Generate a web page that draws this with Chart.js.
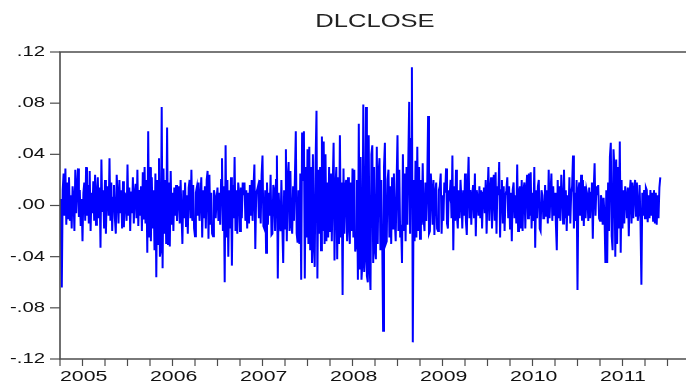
<!DOCTYPE html>
<html>
<head>
<meta charset="utf-8">
<title>DLCLOSE</title>
<script src="https://cdn.jsdelivr.net/npm/chart.js@4/dist/chart.umd.min.js"></script>
<style>
  html, body { margin: 0; padding: 0; background: #fff; overflow: hidden; }
  canvas { display: block; }
</style>
</head>
<body>
<canvas id="c" width="700" height="383"></canvas>
<script>
// Daily log-differences of the closing price, in thousandths, one row per year.
// Observations are spaced evenly through each year.
const r2005 = [
  5, -22, -64, 12, 25, -8, 29, -15, 18, -10,
  22, -12, 8, -18, 15, 6, -20, 28, -6, 14,
  29, -9, 12, -16, 5, -28, 10, 18, -12, 30,
  -8, 16, -14, 27, -20, 10, -6, 19, -12, 24,
  -15, 8, 22, -10, 14, -33, 36, -5, 12, -18,
  20, -22, 9, 15, -8, 37, -12, 18, -20, 6,
  16, -10, -22, 24, 8, -14, 20, -6, 12, -18,
  19, -17, 10, 5, -12, 32, -8, 14, -20, 11,
  -6, 22, -14, 9, 17, -10, 28, -16, 12, -8,
  15, -20, 26, -11, 30, -14, 20, -37, 58, -25
];
const r2006 = [
  30, -28, 22, -18, 12, -35, 25, -56, 20, -30,
  37, -40, -35, 77, -49, 29, -22, 20, -30, 61,
  -30, 18, -32, 27, -15, 10, -20, 14, -8, 16,
  -12, 9, 15, -14, 20, -6, -30, 12, -10, 18,
  -16, 8, -22, 14, 20, -10, 28, -12, 16, -18,
  -24, 10, 14, -8, 18, -12, 6, 22, -25, 12,
  -10, 15, -18, 20, 27, -26, 24, -15, 10, -22,
  -24, 12, 8, -10, 5, 14, -12, 10, -15, 20,
  37, -20, 15, -60, 47, -25, 20, -40, 12, -18,
  22, -47, 16, -10, 38, -20, 12, -22, 18, 10
];
const r2007 = [
  -20, 14, -10, 18, 8, 18, -12, 12, -18, 10,
  -14, 16, -8, 20, -12, 14, 32, -34, 10, 12,
  15, -10, 20, -14, 24, 39, -16, -18, 12, -37,
  18, -15, 10, -8, 24, -23, -22, 16, 12, -20,
  20, 39, -57, 10, -8, -20, 20, -15, -45, 12,
  -18, 44, -28, 20, 34, -20, 27, -15, -22, 15,
  -12, 22, 58, -22, -29, 12, -30, 25, -58, 57,
  20, 58, -57, 30, -25, 44, -30, 46, -35, 30,
  -45, 40, -30, -48, 35, 74, -57, 28, -22, 30,
  -35, 54, -20, 50, -30, 40, -28, 18, -25, 30
];
const r2008 = [
  -20, 25, -28, 15, 49, -43, 12, 30, -42, 22,
  -30, 55, -25, 18, -70, 29, -22, 15, 20, -28,
  22, -15, -30, 18, -20, 29, -25, 28, -36, -30,
  20, -58, 64, -50, 38, -58, -45, 79, -52, -40,
  77, -55, -60, 55, -48, -66, 40, 47, -45, 30,
  -35, -42, 46, -30, 25, 37, -35, 20, -25, -98,
  30, 49, -30, -28, 20, 28, -25, 15, -30, 22,
  -18, 25, -12, -28, 18, 55, -20, 28, -25, -15,
  -45, 40, -20, 25, -28, 30, -15, 35, 81, -22,
  52, 108, -107, 20, -28, 35, -25, 46, -20, 30
];
const r2009 = [
  -26, 20, -15, 33, -10, -20, 18, -12, 15, 70,
  -22, -20, 25, 12, -15, 20, -23, 10, 18, -18,
  -20, 12, 15, 25, -22, 8, -12, 18, 10, 29,
  -14, -18, 12, 8, 20, -10, 39, -35, 15, -12,
  28, -8, -18, 12, -10, 20, 5, -18, 12, -8,
  25, -12, -23, 14, 38, -10, 12, -15, 8, 16,
  -10, 25, -24, 12, 6, -8, 15, -10, 12, -18,
  10, 14, -6, 20, -22, 8, 30, -12, 12, 22,
  -18, 10, 24, -12, 26, -22, 15, 8, 34, -25,
  12, 20, -14, 15, -20, 8, 12, 22, -10, 15
];
const r2010 = [
  -18, 10, -28, 12, 18, -10, 8, -14, 32, -20,
  10, 15, -18, 20, -20, 12, 18, -18, 12, 24,
  -10, 25, -8, 26, -18, 10, -12, 30, -33, 12,
  -10, 15, 20, -18, -20, 12, 8, -10, -10, 16,
  -8, 12, -14, 28, -10, 10, 25, -12, 15, -8,
  10, -15, -35, 20, -10, 15, -12, 24, 10, -14,
  28, -10, 12, -20, 8, -8, 22, -14, 10, 15,
  39, -18, 10, -12, 20, -66, 12, 18, -8, 24,
  -12, 20, -16, 15, -10, 12, 8, -12, 14, -10,
  10, 18, -26, 12, 33, -8, 15, 8, 16, -10
];
const r2011 = [
  -12, 8, 4, -15, 6, -8, -45, 12, -45, 18,
  -20, 38, 49, -24, -35, 44, 30, -40, 36, -30,
  30, -18, 50, -37, 20, -18, 12, -14, 15, 8,
  -10, 14, -24, 10, 20, -14, 18, -10, 12, 20,
  -8, 18, -12, -4, 16, -14, -62, 10, -8, 12,
  -10, 14, 12, -13, 8, -10, 12, -8, 10, -12,
  12, -14, 10, -15, 8, -10, 14, 22
];

const years = [2005, 2006, 2007, 2008, 2009, 2010, 2011];
const yearlySeries = [r2005, r2006, r2007, r2008, r2009, r2010, r2011];
const yTickValues = [0.12, 0.08, 0.04, 0.00, -0.04, -0.08, -0.12];
const yTickLabels = ['.12', '.08', '.04', '.00', '-.04', '-.08', '-.12'];
const xYearLabels = ['2005', '2006', '2007', '2008', '2009', '2010', '2011'];
const title = 'DLCLOSE';

const OBS_PER_YEAR = 100;
const UNIT = 1000;

const points = [];
yearlySeries.forEach((arr, k) => {
  arr.forEach((v, i) => {
    points.push({ x: years[k] + i / OBS_PER_YEAR, y: v / UNIT });
  });
});

const FONT = '"Liberation Sans", Arial, Helvetica, sans-serif';

function wideText(ctx, text, x, y, align, sx) {
  ctx.save();
  ctx.translate(x, y);
  ctx.scale(sx, 1);
  ctx.textAlign = align;
  ctx.fillText(text, 0, 0);
  ctx.restore();
}

// Frame, tick marks, labels and title in the EViews look.
const framePlugin = {
  id: 'frame',
  afterDraw(chart) {
    const { ctx, chartArea: a, scales } = chart;
    const xs = scales.x, ys = scales.y;
    ctx.save();

    // frame
    ctx.strokeStyle = '#4d4d4d';
    ctx.lineWidth = 1.6;
    ctx.beginPath();
    ctx.moveTo(a.left, a.top);
    ctx.lineTo(a.right, a.top);
    ctx.lineTo(a.right, a.bottom);
    ctx.lineTo(a.left, a.bottom);
    ctx.closePath();
    ctx.stroke();

    // y ticks and labels
    ctx.lineWidth = 1.2;
    ctx.fillStyle = '#111';
    ctx.font = '14px ' + FONT;
    ctx.textBaseline = 'middle';
    yTickValues.forEach((v, i) => {
      const py = ys.getPixelForValue(v);
      ctx.beginPath();
      ctx.moveTo(a.left - 10, py);
      ctx.lineTo(a.left, py);
      ctx.stroke();
      wideText(ctx, yTickLabels[i], a.left - 15, py, 'right', 1.45);
    });

    // x quarterly ticks
    for (let q = 0; q <= 28; q++) {
      const px = xs.getPixelForValue(2005 + q / 4);
      ctx.beginPath();
      ctx.moveTo(px, a.bottom);
      ctx.lineTo(px, a.bottom + 7);
      ctx.stroke();
    }

    // year labels
    ctx.textBaseline = 'alphabetic';
    xYearLabels.forEach((lab, i) => {
      const px = xs.getPixelForValue(years[i]);
      wideText(ctx, lab, px, a.bottom + 22, 'left', 1.52);
    });

    // title
    ctx.fillStyle = '#222';
    ctx.font = '18px ' + FONT;
    wideText(ctx, title, (a.left + a.right) / 2, 27, 'center', 1.42);

    ctx.restore();
  }
};

new Chart(document.getElementById('c'), {
  type: 'line',
  data: {
    datasets: [{
      data: points,
      borderColor: '#0000ff',
      borderWidth: 2,
      pointRadius: 0,
      tension: 0,
      fill: false
    }]
  },
  options: {
    responsive: false,
    animation: false,
    events: [],
    layout: { padding: { left: 60, right: 10, top: 52, bottom: 24 } },
    plugins: { legend: { display: false }, tooltip: { enabled: false }, title: { display: false } },
    scales: {
      x: { type: 'linear', min: 2005, max: 2012, display: false },
      y: { type: 'linear', min: -0.12, max: 0.12, display: false }
    }
  },
  plugins: [framePlugin]
});
</script>
</body>
</html>
